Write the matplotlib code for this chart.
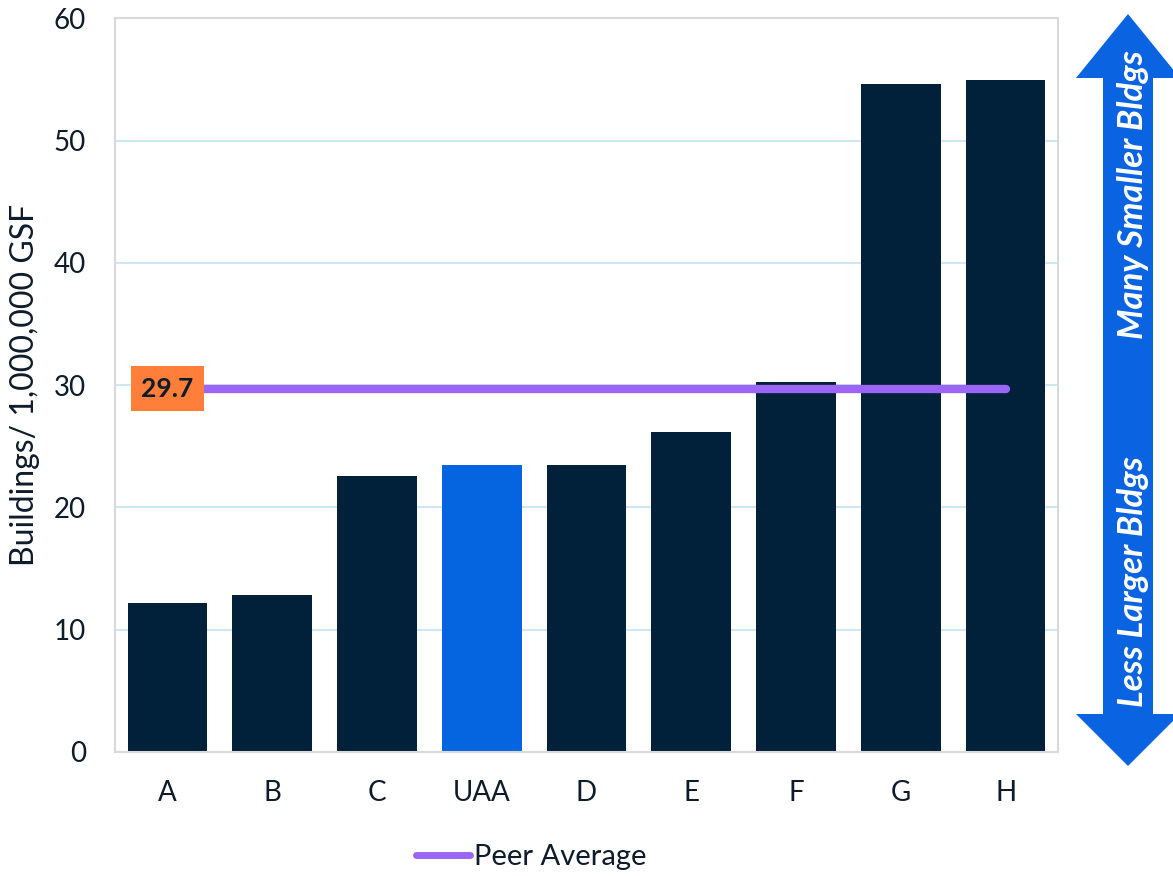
import matplotlib.pyplot as plt
from matplotlib.patches import Polygon
from matplotlib.lines import Line2D

plt.rcParams['font.family'] = ['Lato', 'DejaVu Sans']

# data
schools = ['A', 'B', 'C', 'UAA', 'D', 'E', 'F', 'G', 'H']
bldgs_per_msf = [12.2, 12.8, 22.6, 23.5, 23.5, 26.2, 30.3, 54.6, 55.0]
peer_avg = 29.7
highlight = 'UAA'

navy = '#012039'
blue = '#0565E1'
purple = '#9B66F5'
orange = '#FF7F3A'
text_c = '#0D1B2A'

fig = plt.figure(figsize=(11.73, 8.76), dpi=100)
ax = fig.add_axes([0.098, 0.1416, 0.804, 0.8374])

colors = [blue if s == highlight else navy for s in schools]
x = list(range(len(schools)))
ax.bar(x, bldgs_per_msf, width=0.76, color=colors, zorder=2)

# peer average line across the categories
ax.plot([x[0], x[-1]], [peer_avg, peer_avg], color=purple, lw=6,
        solid_capstyle='round', zorder=3)
ax.text(x[0], peer_avg, f'{peer_avg:.1f}', ha='center', va='center',
        fontsize=19, fontweight='bold', color=text_c, zorder=4,
        bbox=dict(boxstyle='square,pad=0.4', fc=orange, ec='none'))

ax.set_xlim(-0.5, len(schools) - 0.5)
ax.set_ylim(0, 60)
ax.set_yticks(range(0, 61, 10))
ax.set_xticks(x)
ax.set_xticklabels(schools)
ax.tick_params(axis='both', length=0, labelsize=20, colors=text_c)
ax.tick_params(axis='x', pad=20)
ax.tick_params(axis='y', pad=21)
ax.grid(axis='y', color='#C5E3F6', lw=1.2, zorder=0)
for sp in ax.spines.values():
    sp.set_color('#D9D9D9')
    sp.set_linewidth(1.5)
ax.set_ylabel('Buildings/ 1,000,000 GSF', fontsize=23, color=text_c, labelpad=10)

# legend below the axis
handle = Line2D([], [], color=purple, lw=5, solid_capstyle='round')
fig.legend([handle], ['Peer Average'], loc='center', bbox_to_anchor=(0.453, 0.022),
           frameon=False, fontsize=21, handlelength=1.85, handletextpad=0.15,
           labelcolor=text_c)

# double-headed arrow on the right
W, H = 1173, 876
def fp(px, py):
    return (px / W, 1 - py / H)

arrow_pts = [(1128, 14), (1180, 78), (1153, 78), (1153, 714), (1180, 714),
             (1128, 766), (1076, 714), (1103, 714), (1103, 78), (1076, 78)]
fig.patches.append(Polygon([fp(*p) for p in arrow_pts], closed=True,
                           transform=fig.transFigure, fc='#0A64E2', ec='none'))
fig.text(*fp(1133, 195), 'Many Smaller Bldgs', rotation=90, ha='center', va='center',
         color='white', fontsize=25, fontweight='bold', fontstyle='italic')
fig.text(*fp(1133, 582), 'Less Larger Bldgs', rotation=90, ha='center', va='center',
         color='white', fontsize=25, fontweight='bold', fontstyle='italic')

plt.savefig('out.png', dpi=100)
